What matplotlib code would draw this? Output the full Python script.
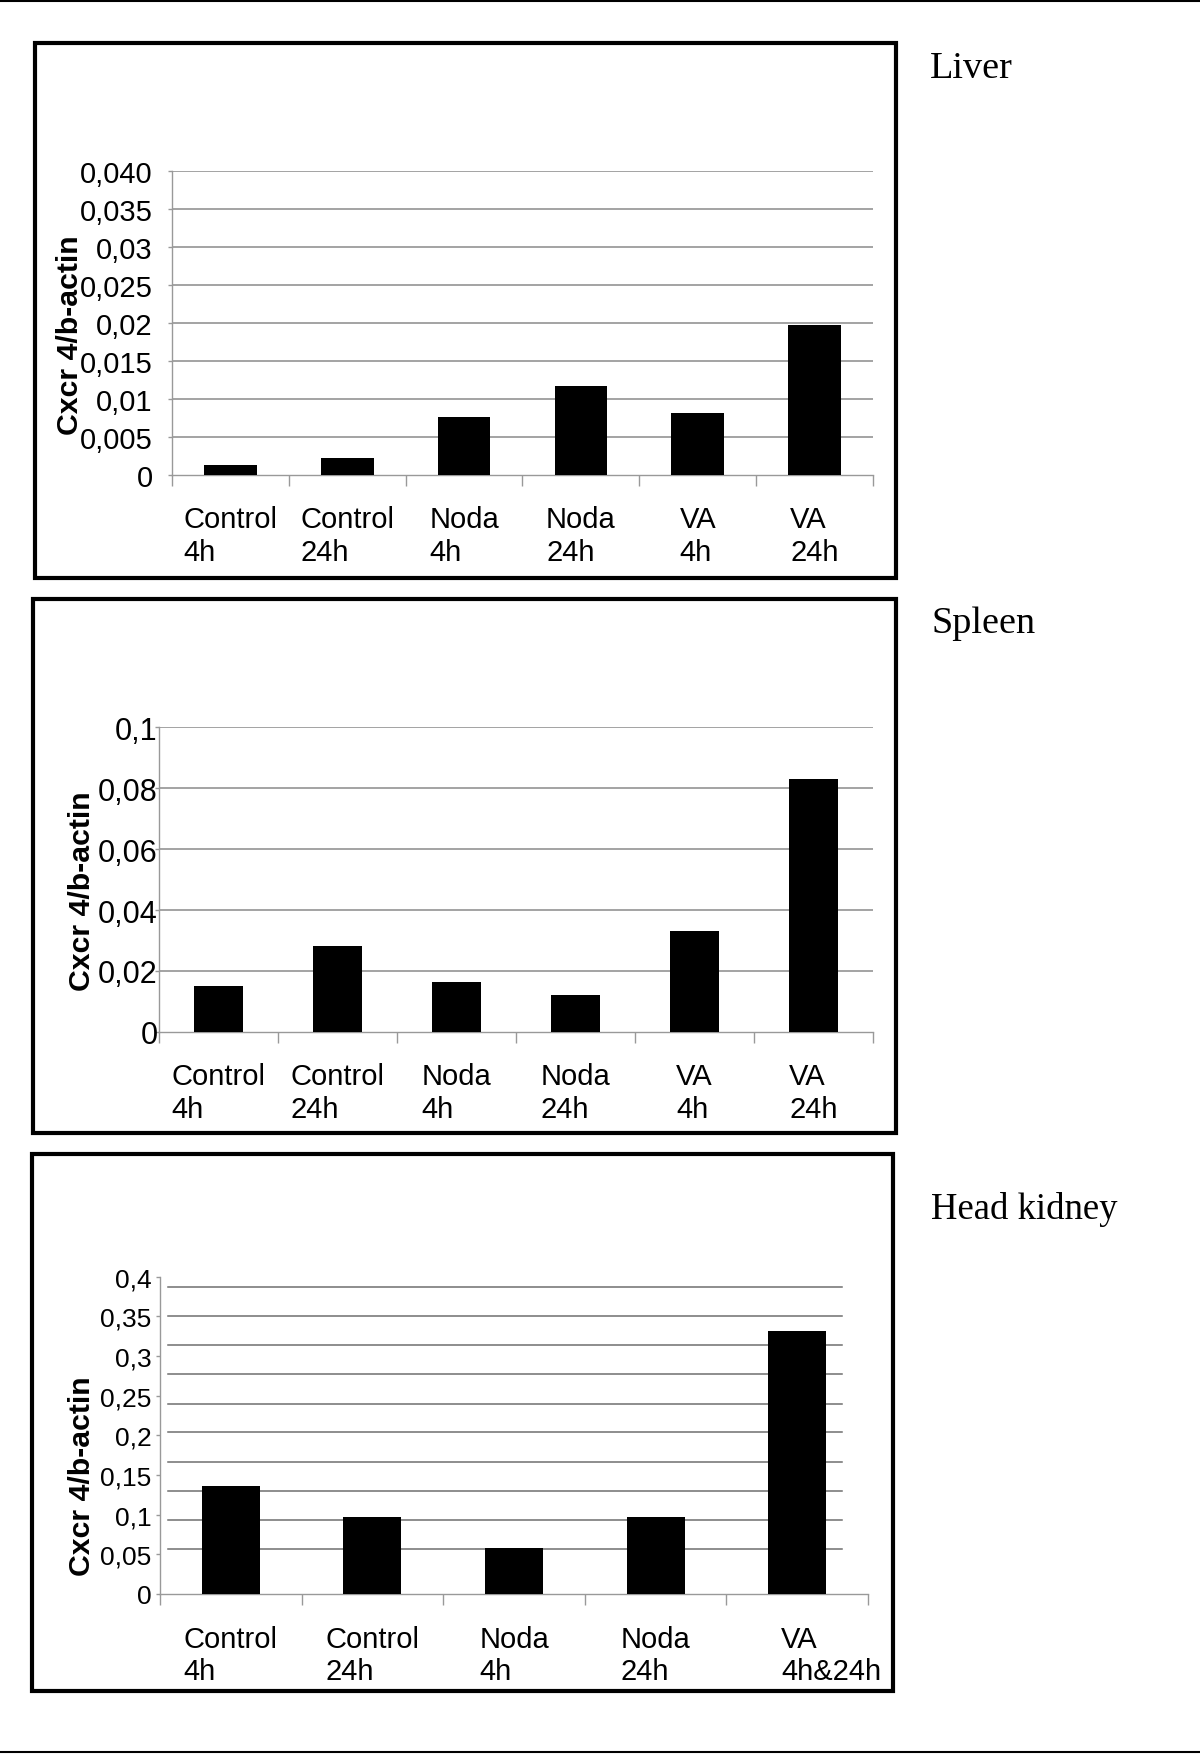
import matplotlib
matplotlib.use("Agg")
import matplotlib.pyplot as plt
import matplotlib.transforms as mtransforms
from matplotlib.patches import Rectangle
from matplotlib.lines import Line2D

W, H = 1200, 1756

# Liver
liver_cats = ["Control\n4h", "Control\n24h", "Noda\n4h", "Noda\n24h", "VA\n4h", "VA\n24h"]
liver_vals = [0.0013, 0.0022, 0.0076, 0.0117, 0.0081, 0.0197]
liver_ticks = [0, 0.005, 0.01, 0.015, 0.02, 0.025, 0.03, 0.035, 0.04]
liver_ticklabels = ["0", "0,005", "0,01", "0,015", "0,02", "0,025", "0,03", "0,035", "0,040"]

# Spleen
spleen_cats = ["Control\n4h", "Control\n24h", "Noda\n4h", "Noda\n24h", "VA\n4h", "VA\n24h"]
spleen_vals = [0.0149, 0.0282, 0.0165, 0.0122, 0.0330, 0.0830]
spleen_ticks = [0, 0.02, 0.04, 0.06, 0.08, 0.1]
spleen_ticklabels = ["0", "0,02", "0,04", "0,06", "0,08", "0,1"]

# Head kidney
kidney_cats = ["Control\n4h", "Control\n24h", "Noda\n4h", "Noda\n24h", "VA\n4h&24h"]
kidney_vals = [0.136, 0.0967, 0.0585, 0.0967, 0.332]
kidney_ticks = [0, 0.05, 0.1, 0.15, 0.2, 0.25, 0.3, 0.35, 0.4]
kidney_ticklabels = ["0", "0,05", "0,1", "0,15", "0,2", "0,25", "0,3", "0,35", "0,4"]
# the gridlines in this panel do not sit on the tick values
kidney_grid = [0.057, 0.093, 0.130, 0.167, 0.204, 0.240, 0.277, 0.314, 0.350, 0.387]

plt.rcParams["font.family"] = ["Liberation Sans", "DejaVu Sans"]

fig = plt.figure(figsize=(W / 100, H / 100), dpi=100)


def px_axes(l, t, r, b):
    return fig.add_axes([l / W, 1 - b / H, (r - l) / W, (b - t) / H])


def px_box(l, t, r, b, lw=3):
    fig.add_artist(Rectangle((l / W, 1 - b / H), (r - l) / W, (b - t) / H,
                             transform=fig.transFigure, fill=False,
                             edgecolor="black", linewidth=lw))


def draw_panel(ax, cats, vals, ticks, ticklabels, bar_w, tick_fs, tick_pad,
               grid_levels=None, grid_span=(0, 1), grid_color="#8a8a8a"):
    n = len(cats)
    xs = list(range(n))
    ax.bar(xs, vals, width=bar_w, color="black", zorder=3)
    ax.set_xlim(-0.5, n - 0.5)
    ax.set_ylim(ticks[0], ticks[-1])
    ax.set_yticks(ticks)
    ax.set_yticklabels(ticklabels, fontsize=tick_fs)
    ax.tick_params(axis="y", length=3, width=1, color="#999999", pad=tick_pad)

    ax.set_xticks([i - 0.5 for i in range(n + 1)])
    ax.set_xticklabels([])
    ax.tick_params(axis="x", which="major", length=8, width=1, color="#999999")
    ax.set_xticks(xs, minor=True)
    labels = ax.set_xticklabels(cats, minor=True, fontsize=21, ha="center",
                                multialignment="left", linespacing=1.2)
    ax.tick_params(axis="x", which="minor", length=0, pad=22)

    if grid_levels is None:
        grid_levels = ticks[1:]
    for g in grid_levels:
        ax.axhline(g, xmin=grid_span[0], xmax=grid_span[1], color=grid_color,
                   lw=1.1, zorder=1)

    for s in ["top", "right"]:
        ax.spines[s].set_visible(False)
    for s in ["left", "bottom"]:
        ax.spines[s].set_color("#999999")
        ax.spines[s].set_linewidth(1)
    return labels


# page rules
fig.add_artist(Line2D([0, 1], [1 - 1.5 / H, 1 - 1.5 / H], transform=fig.transFigure,
                      color="black", lw=1.5))
fig.add_artist(Line2D([0, 1], [1 - 1753 / H, 1 - 1753 / H], transform=fig.transFigure,
                      color="black", lw=1.5))

# Liver
px_box(35, 44, 896, 579)
ax1 = px_axes(172, 171.7, 873, 475.7)
draw_panel(ax1, liver_cats, liver_vals, liver_ticks, liver_ticklabels,
           bar_w=0.45, tick_fs=21, tick_pad=11)
fig.text(70 / W, 1 - 335 / H, "Cxcr 4/b-actin", rotation=90, ha="center",
         va="center", fontsize=21.8, fontweight="bold")
fig.text(930 / W, 1 - 77.7 / H, "Liver", family="Liberation Serif",
         fontsize=27.5, va="baseline", ha="left")

# Spleen
px_box(33, 600, 896, 1134)
ax2 = px_axes(159, 728.2, 873, 1032.9)
draw_panel(ax2, spleen_cats, spleen_vals, spleen_ticks, spleen_ticklabels,
           bar_w=0.41, tick_fs=22, tick_pad=-2)
fig.text(82 / W, 1 - 891 / H, "Cxcr 4/b-actin", rotation=90, ha="center",
         va="center", fontsize=21.8, fontweight="bold")
fig.text(931 / W, 1 - 633 / H, "Spleen", family="Liberation Serif",
         fontsize=27.5, va="baseline", ha="left")

# Head kidney
px_box(32, 1155, 893, 1692)
ax3 = px_axes(160, 1277.7, 868, 1595)
kid_labels = draw_panel(ax3, kidney_cats, kidney_vals, kidney_ticks, kidney_ticklabels,
                        bar_w=0.41, tick_fs=19, tick_pad=3,
                        grid_levels=kidney_grid, grid_span=(0.012, 0.963),
                        grid_color="#6f6f6f")
# last label sits further right in the original
shift = mtransforms.ScaledTranslation(0.34, 0, fig.dpi_scale_trans)
for lab in kid_labels[-1:]:
    lab.set_transform(lab.get_transform() + shift)
fig.text(82 / W, 1 - 1476 / H, "Cxcr 4/b-actin", rotation=90, ha="center",
         va="center", fontsize=21.8, fontweight="bold")
fig.text(931 / W, 1 - 1218.6 / H, "Head kidney", family="Liberation Serif",
         fontsize=26.5, va="baseline", ha="left")

fig.savefig("out.png", dpi=100)
